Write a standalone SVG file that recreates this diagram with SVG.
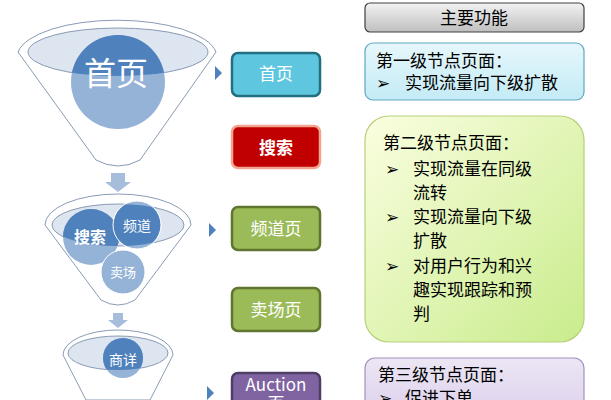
<svg xmlns="http://www.w3.org/2000/svg" width="611" height="400" viewBox="0 0 611 400">
<style>
text{font-family:"Noto Sans CJK SC","Liberation Sans",sans-serif}
.fun{fill:#fff;stroke:#8a9bb5;stroke-width:1}
.inner{fill:#dde5f0;stroke:#8a9bb5;stroke-width:1}
.cd{fill:#4f81bd}
.cl{fill:#95b3d7}
.ct{fill:#fff;text-anchor:middle}
.tri{fill:#4f81bd}
.nb{stroke-width:2.5}
.nt{fill:#fff;text-anchor:middle;font-size:17px}
.rt{fill:#000;font-size:17px}
</style>
<defs>
<linearGradient id="g0" x1="0" y1="0" x2="0" y2="1"><stop offset="0" stop-color="#f2f2f2"/><stop offset="1" stop-color="#bfbfbf"/></linearGradient>
<linearGradient id="g1" x1="0" y1="0" x2="0" y2="1"><stop offset="0" stop-color="#e6f7fb"/><stop offset="1" stop-color="#c4ebf6"/></linearGradient>
<linearGradient id="g2" x1="0" y1="0" x2="1" y2="1"><stop offset="0" stop-color="#fafee0"/><stop offset="1" stop-color="#c9ec8c"/></linearGradient>
<linearGradient id="g3" x1="0" y1="0" x2="0" y2="1"><stop offset="0" stop-color="#ece6f4"/><stop offset="1" stop-color="#dcd0ec"/></linearGradient>
<clipPath id="c1"><ellipse cx="118" cy="52" rx="90" ry="24"/></clipPath>
<clipPath id="c2"><ellipse cx="118" cy="225" rx="66" ry="21"/></clipPath>
<clipPath id="c3"><ellipse cx="118" cy="353" rx="50" ry="17"/></clipPath>
</defs>
<g id="funnel1">
<path class="fun" d="M18,52 A100,37 0 0 1 216,52 L140,160 Q118,172 96,160 Z"/>
<ellipse class="inner" cx="118" cy="52" rx="90" ry="24"/>
<circle class="cl" cx="118" cy="82" r="47"/>
<circle class="cd" cx="118" cy="82" r="47" clip-path="url(#c1)"/>
<text class="ct" x="116" y="85" font-size="32">首页</text>
</g>
<g id="funnel2">
<path class="fun" d="M45,225 A73,31 0 0 1 191,225 L135,300 Q118,310 101,300 Z"/>
<ellipse class="inner" cx="118" cy="225" rx="66" ry="21"/>
<circle class="cl" cx="91" cy="237" r="28"/>
<circle class="cl" cx="123" cy="272" r="22" stroke="#fff"/>
<circle class="cl" cx="137" cy="225" r="24" stroke="#fff"/>
<g clip-path="url(#c2)"><circle class="cd" cx="91" cy="237" r="28"/><circle class="cd" cx="137" cy="225" r="24" stroke="#fff"/></g>
<text class="ct" x="90" y="243" font-size="16" font-weight="bold">搜索</text>
<text class="ct" x="137" y="231" font-size="14">频道</text>
<text class="ct" x="123" y="277" font-size="13">卖场</text>
</g>
<g id="funnel3">
<path class="fun" d="M63,355 A55,25 0 0 1 173,355 L150,400 L86,400 Z"/>
<ellipse class="inner" cx="118" cy="353" rx="50" ry="17"/>
<circle class="cl" cx="123" cy="358" r="20"/>
<circle class="cd" cx="123" cy="358" r="20" clip-path="url(#c3)"/>
<text class="ct" x="123" y="365" font-size="14">商详</text>
</g>
<g id="connectors">
<path d="M111,173 H125 V182 H131 L118,192 L105,182 H111 Z" fill="#a6bddb"/>
<path d="M113,313 H123 V320 H128 L118,328 L108,320 H113 Z" fill="#a6bddb"/>
<path class="tri" d="M215,66 L222,73 L215,80 Z"/>
<path class="tri" d="M209,223 L216,230 L209,237 Z"/>
<path class="tri" d="M207,386 L214,393 L207,400 Z"/>
</g>
<g id="n-home"><rect class="nb" x="232" y="53" width="88" height="43" rx="6" fill="#5fc6df" stroke="#226f80"/><text class="nt" x="276" y="80">首页</text></g>
<g id="n-search"><rect class="nb" x="232" y="126" width="88" height="42" rx="6" fill="#c00000" stroke="#f2a48e"/><text class="nt" x="276" y="154" font-weight="bold">搜索</text></g>
<g id="n-channel"><rect class="nb" x="232" y="207" width="88" height="43" rx="6" fill="#9bbb59" stroke="#5f7530"/><text class="nt" x="276" y="235">频道页</text></g>
<g id="n-mall"><rect class="nb" x="232" y="288" width="88" height="43" rx="6" fill="#9bbb59" stroke="#5f7530"/><text class="nt" x="276" y="316">卖场页</text></g>
<g id="n-auction"><rect class="nb" x="232" y="373" width="88" height="43" rx="6" fill="#8064a2" stroke="#4f3d66"/><text class="nt" x="276" y="391">Auction</text><text class="nt" x="276" y="410">页</text></g>
<g id="h-main"><rect x="365" y="3" width="219" height="29" rx="5" fill="url(#g0)" stroke="#404040" stroke-width="1.2"/><text x="474" y="24" text-anchor="middle" font-size="17">主要功能</text></g>
<g id="b-level1"><rect x="365" y="43" width="219" height="57" rx="8" fill="url(#g1)" stroke="#5ea7c2" stroke-width="1.2"/>
<text class="rt" x="376" y="67">第一级节点页面：</text><text class="rt" x="376" y="89">➢<tspan x="405">实现流量向下级扩散</tspan></text></g>
<g id="b-level2"><rect x="365" y="116" width="219" height="226" rx="24" fill="url(#g2)" stroke="#b8cf7a" stroke-width="1.2"/>
<text class="rt" x="383" y="149">第二级节点页面：</text>
<text class="rt" x="385" y="175">➢<tspan x="413">实现流量在同级</tspan></text><text class="rt" x="413" y="199">流转</text>
<text class="rt" x="385" y="223">➢<tspan x="413">实现流量向下级</tspan></text><text class="rt" x="413" y="247">扩散</text>
<text class="rt" x="385" y="272">➢<tspan x="413">对用户行为和兴</tspan></text><text class="rt" x="413" y="296">趣实现跟踪和预</text><text class="rt" x="413" y="320">判</text></g>
<g id="b-level3"><rect x="365" y="358" width="219" height="60" rx="10" fill="url(#g3)" stroke="#a191bd" stroke-width="1.2"/>
<text class="rt" x="378" y="381">第三级节点页面：</text><text class="rt" x="378" y="404">➢<tspan x="405">促进下单</tspan></text></g>
</svg>
